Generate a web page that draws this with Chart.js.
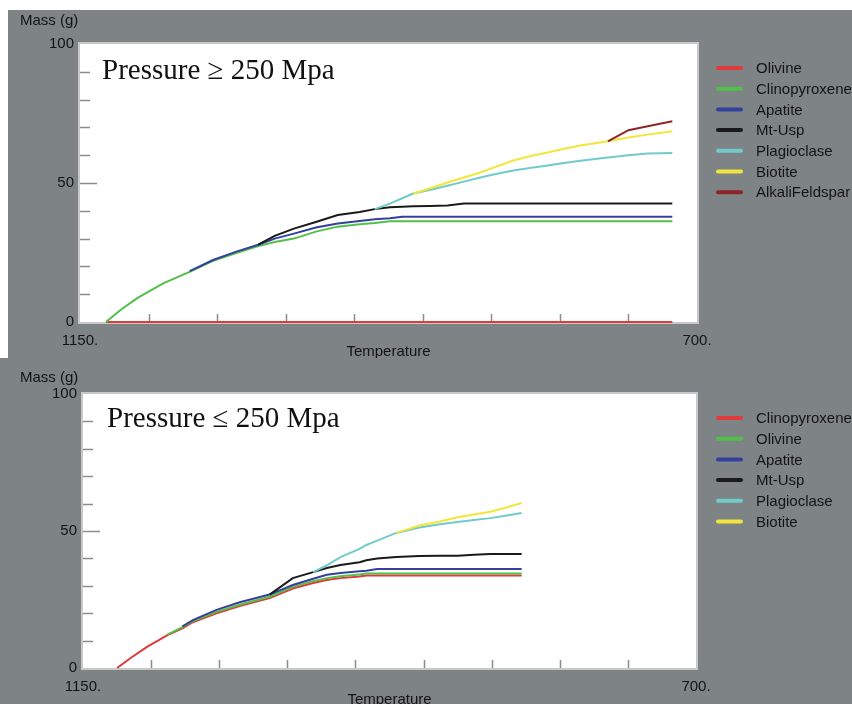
<!DOCTYPE html>
<html>
<head>
<meta charset="utf-8">
<script src="https://cdn.jsdelivr.net/npm/chart.js@4.4.0/dist/chart.umd.min.js"></script>
<style>
  html, body { margin: 0; padding: 0; background: #fff; }
  body { width: 852px; height: 704px; position: relative; overflow: hidden; }
  .panel { position: absolute; background: #7e8386; }
  #top { left: 8px; top: 10px; width: 844px; height: 348px; }
  #bottom { left: 0; top: 358px; width: 852px; height: 346px; }
  canvas { display: block; }
</style>
</head>
<body>
<div class="panel" id="top"><canvas id="c1" width="844" height="348"></canvas></div>
<div class="panel" id="bottom"><canvas id="c2" width="852" height="346"></canvas></div>
<script>
// upper run: P >= 250 MPa
const tempsHigh = [1131, 1120, 1108, 1089, 1070, 1053, 1036, 1020, 1008, 994, 978, 962, 946, 935, 924, 915,
  907, 895, 882, 870, 858, 846, 834, 822, 809, 797, 785, 765, 750, 736, 718];
const olivineHigh = [0, 0, 0, 0, 0, 0, 0, 0, 0, 0, 0, 0, 0, 0, 0, 0,
  0, 0, 0, 0, 0, 0, 0, 0, 0, 0, 0, 0, 0, 0, 0];
const cpxHigh = [0, 4.5, 8.7, 14, 18, 22, 24.8, 27.3, 28.8, 30, 32.5, 34.3, 35.2, 35.6, 36.2, 36.2,
  36.2, 36.2, 36.2, 36.2, 36.2, 36.2, 36.2, 36.2, 36.2, 36.2, 36.2, 36.2, 36.2, 36.2, 36.2];
const apatiteHigh = [null, null, null, null, 18.3, 22.3, 25.3, 27.8, 30, 31.8, 34, 35.4, 36.3, 37, 37.3, 37.9,
  37.9, 37.9, 37.9, 37.9, 37.9, 37.9, 37.9, 37.9, 37.9, 37.9, 37.9, 37.9, 37.9, 37.9, 37.9];
const mtHigh = [null, null, null, null, null, null, null, 27.8, 31, 33.6, 36, 38.5, 39.6, 40.6, 41.3, 41.5,
  41.6, 41.7, 41.9, 42.6, 42.6, 42.6, 42.6, 42.6, 42.6, 42.6, 42.6, 42.6, 42.6, 42.6, 42.6];
const plagHigh = [null, null, null, null, null, null, null, null, null, null, null, null, null, 40.6, 42.6, 44.5,
  46.2, 47.5, 49, 50.5, 52, 53.3, 54.5, 55.4, 56.3, 57.2, 58, 59.2, 60, 60.6, 60.8];
const biotiteHigh = [null, null, null, null, null, null, null, null, null, null, null, null, null, null, null, null,
  46.2, 48, 50.2, 52, 53.8, 56, 58.1, 59.6, 61, 62.3, 63.5, 65, 66.4, 67.4, 68.6];
const alkfsHigh = [null, null, null, null, null, null, null, null, null, null, null, null, null, null, null, null,
  null, null, null, null, null, null, null, null, null, null, null, 65, 69, 70.4, 72.2];

// lower run: P <= 250 MPa
const tempsLow = [1125, 1114, 1103, 1088, 1077, 1069, 1052, 1035, 1013, 996, 981, 971, 961, 947, 942, 934,
  920, 903, 888, 875, 863, 851, 840, 828];
const cpxLow = [0, 4, 7.7, 12, 14.5, 16.8, 20, 22.6, 25.5, 29, 31, 32.1, 32.8, 33.4, 33.8, 33.8,
  33.8, 33.8, 33.8, 33.8, 33.8, 33.8, 33.8, 33.8];
const olivineLow = [null, null, null, 12.2, 14.9, 17.2, 20.5, 23.1, 26, 29.6, 31.7, 32.8, 33.5, 34.1, 34.5, 34.5,
  34.5, 34.5, 34.5, 34.5, 34.5, 34.5, 34.5, 34.5];
const apatiteLow = [null, null, null, null, 15.2, 17.6, 21.2, 24, 26.8, 30.3, 32.6, 34, 34.7, 35.3, 35.5, 36.1,
  36.1, 36.1, 36.1, 36.1, 36.1, 36.1, 36.1, 36.1];
const mtLow = [null, null, null, null, null, null, null, null, 26.8, 32.8, 35, 36.5, 37.6, 38.6, 39.3, 40,
  40.5, 40.9, 41, 41, 41.3, 41.6, 41.6, 41.6];
const plagLow = [null, null, null, null, null, null, null, null, null, null, 35, 37.5, 40.5, 43.5, 44.9, 46.5,
  49.3, 51.3, 52.5, 53.3, 54, 54.7, 55.6, 56.6];
const biotiteLow = [null, null, null, null, null, null, null, null, null, null, null, null, null, null, null, null,
  49.3, 52, 53.5, 55, 56, 57, 58.5, 60.2];

const RED = '#e03a3a', GREEN = '#52c048', BLUE = '#34409e', BLACK = '#1a1a1a',
  CYAN = '#72cacb', YELLOW = '#f2e63a', DARKRED = '#8e2525';
const SANS = "'Liberation Sans', Arial, sans-serif";
const TEXT = '#141414';

// plot frame, inner ticks, legend and labels
const decor = {
  id: 'decor',
  beforeDatasetsDraw(chart, args, o) {
    const { ctx, chartArea: a, scales: { x, y } } = chart;
    ctx.save();
    ctx.fillStyle = '#ffffff';
    ctx.fillRect(a.left, a.top, a.width, a.height);
    ctx.strokeStyle = '#c8c8c8';
    ctx.lineWidth = 2;
    ctx.strokeRect(a.left - 1, a.top - 1, a.width + 2, a.height + 2);
    ctx.strokeStyle = '#8c8c8c';
    ctx.lineWidth = 1.5;
    ctx.beginPath();
    y.ticks.forEach(t => {
      if (t.value <= y.min || t.value >= y.max) return;
      const py = Math.round(y.getPixelForValue(t.value)) + 0.5;
      ctx.moveTo(a.left, py);
      ctx.lineTo(a.left + (t.value % 50 === 0 ? 17 : 10), py);
    });
    x.ticks.forEach(t => {
      if (t.value <= x.min || t.value >= x.max) return;
      const px = Math.round(x.getPixelForValue(t.value)) + 0.5;
      ctx.moveTo(px, a.bottom);
      ctx.lineTo(px, a.bottom - 8);
    });
    ctx.stroke();
    ctx.restore();
  },
  afterDraw(chart, args, o) {
    const { ctx, chartArea: a } = chart;
    ctx.save();
    ctx.font = '15px ' + SANS;
    ctx.textBaseline = 'middle';
    chart.data.datasets.forEach((ds, i) => {
      const yy = a.top + 24 + i * 20.7;
      ctx.strokeStyle = ds.borderColor;
      ctx.lineWidth = 4;
      ctx.lineCap = 'round';
      ctx.beginPath();
      ctx.moveTo(a.right + o.legendX + 2, yy);
      ctx.lineTo(a.right + o.legendX + 25, yy);
      ctx.stroke();
      ctx.fillStyle = TEXT;
      ctx.fillText(ds.label, a.right + o.legendX + 40, yy + 1);
    });
    ctx.fillText('Mass (g)', o.massX, o.massY);
    ctx.font = "29px 'Liberation Serif', 'Times New Roman', serif";
    ctx.textBaseline = 'alphabetic';
    ctx.fillStyle = '#111';
    ctx.fillText(o.note, a.left + o.noteX, a.top + o.noteY);
    ctx.restore();
  }
};

function makeChart(id, temps, series, o) {
  const n = series.length;
  return new Chart(document.getElementById(id), {
    type: 'line',
    data: {
      datasets: series.map((s, i) => ({
        label: s.label,
        data: temps.map((t, k) => ({ x: t, y: s.data[k] })),
        borderColor: s.color,
        borderWidth: 2,
        pointRadius: 0,
        tension: 0,
        clip: 4,
        order: n - i
      }))
    },
    options: {
      responsive: false,
      animation: false,
      events: [],
      layout: { padding: { top: o.padTop, right: o.padRight, left: 0, bottom: 0 } },
      plugins: {
        legend: { display: false },
        tooltip: { enabled: false },
        decor: o
      },
      scales: {
        x: {
          type: 'linear', reverse: true, min: 700, max: 1150,
          grid: { display: false, drawTicks: false },
          border: { display: false },
          ticks: {
            stepSize: 50, autoSkip: false, maxRotation: 0, padding: 10,
            color: TEXT, font: { family: SANS, size: 15 },
            callback: v => (v === 1150 || v === 700) ? v + '.' : ''
          },
          title: { display: true, text: 'Temperature', color: TEXT, font: { family: SANS, size: 15 },
            padding: { top: 0, bottom: o.titleShift } },
          afterFit: s => { s.height = o.xHeight; }
        },
        y: {
          min: 0, max: 100,
          grid: { display: false, drawTicks: false },
          border: { display: false },
          ticks: {
            stepSize: 10, padding: 6, color: TEXT, font: { family: SANS, size: 15 },
            callback: v => v % 50 === 0 ? v : ''
          },
          afterFit: s => { s.width = o.yWidth; }
        }
      }
    },
    plugins: [decor]
  });
}

makeChart('c1', tempsHigh, [
  { label: 'Olivine', data: olivineHigh, color: RED },
  { label: 'Clinopyroxene', data: cpxHigh, color: GREEN },
  { label: 'Apatite', data: apatiteHigh, color: BLUE },
  { label: 'Mt-Usp', data: mtHigh, color: BLACK },
  { label: 'Plagioclase', data: plagHigh, color: CYAN },
  { label: 'Biotite', data: biotiteHigh, color: YELLOW },
  { label: 'AlkaliFeldspar', data: alkfsHigh, color: DARKRED }
], { padTop: 34, padRight: 155, yWidth: 72, xHeight: 36, titleShift: -3, legendX: 19, massX: 12, massY: 11,
  note: 'Pressure \u2265 250 Mpa', noteX: 22, noteY: 35 });

makeChart('c2', tempsLow, [
  { label: 'Clinopyroxene', data: cpxLow, color: RED },
  { label: 'Olivine', data: olivineLow, color: GREEN },
  { label: 'Apatite', data: apatiteLow, color: BLUE },
  { label: 'Mt-Usp', data: mtLow, color: BLACK },
  { label: 'Plagioclase', data: plagLow, color: CYAN },
  { label: 'Biotite', data: biotiteLow, color: YELLOW }
], { padTop: 36, padRight: 156, yWidth: 83, xHeight: 36, titleShift: -5, legendX: 20, massX: 20, massY: 20,
  note: 'Pressure \u2264 250 Mpa', noteX: 24, noteY: 33 });
</script>
</body>
</html>
